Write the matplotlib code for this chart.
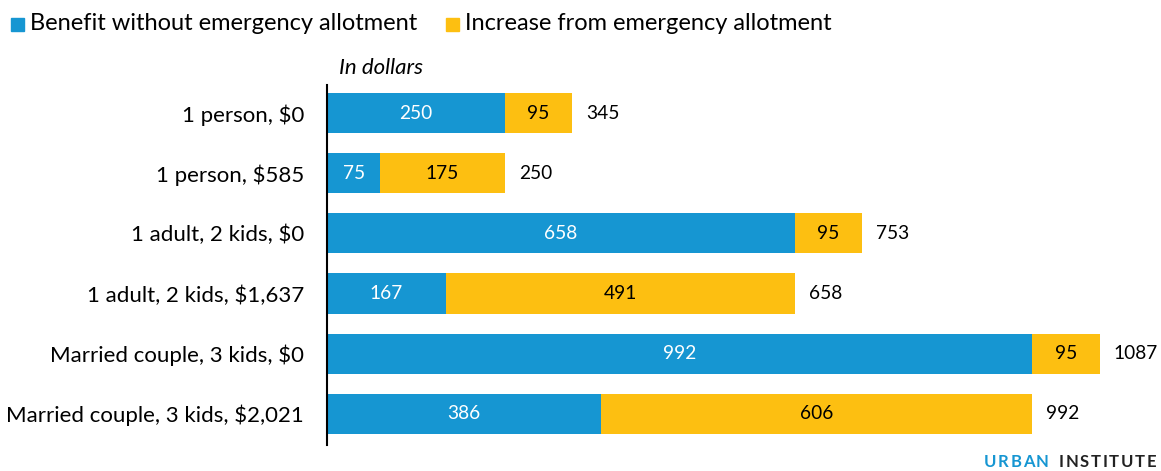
import matplotlib
matplotlib.use("Agg")
import matplotlib.pyplot as plt

plt.rcParams['font.family'] = ['Lato', 'DejaVu Sans']

categories = ["1 person, $0", "1 person, $585", "1 adult, 2 kids, $0",
              "1 adult, 2 kids, $1,637", "Married couple, 3 kids, $0",
              "Married couple, 3 kids, $2,021"]
base = [250, 75, 658, 167, 992, 386]
increase = [95, 175, 95, 491, 95, 606]
totals = [345, 250, 753, 658, 1087, 992]
series_names = ["Benefit without emergency allotment", "Increase from emergency allotment"]

BLUE = "#1696d2"
YELLOW = "#fdbf11"

W, H = 1161, 471
fig = plt.figure(figsize=(W/100, H/100), dpi=100)
ax = fig.add_axes([327/W, 1-445/H, (1150-327)/W, (445-85)/H])

y = list(range(len(categories)))
ax.barh(y, base, height=0.667, color=BLUE, edgecolor="none")
ax.barh(y, increase, left=base, height=0.667, color=YELLOW, edgecolor="none")

vfs = 13.8
for i in y:
    ax.text(base[i]/2, i, f"{base[i]}", ha="center", va="center", color="white", fontsize=vfs)
    ax.text(base[i] + increase[i]/2, i, f"{increase[i]}", ha="center", va="center", color="black", fontsize=vfs)
    ax.text(totals[i] + 20, i, f"{totals[i]}", ha="left", va="center", color="black", fontsize=vfs)

ax.set_xlim(0, (1150-327)/0.7107)
ax.set_ylim(len(categories) - 0.5 + 0.02, -0.467)
ax.set_yticks(y)
ax.set_yticklabels(categories, fontsize=16)
ax.tick_params(axis="y", length=0, pad=16.5)
ax.set_xticks([])
for s in ["top", "right", "bottom"]:
    ax.spines[s].set_visible(False)
ax.spines["left"].set_linewidth(1.5)
ax.spines["left"].set_color("black")

fig.text(339/W, 1-68/H, "In dollars", fontsize=16, style="italic", ha="left", va="center")

# legend
fig.patches.append(plt.Rectangle((11/W, 1-31/H), 13/W, 13/H, transform=fig.transFigure, color=BLUE))
fig.text(30/W, 1-24/H, series_names[0], fontsize=17, ha="left", va="center")
fig.patches.append(plt.Rectangle((446/W, 1-31/H), 13/W, 13/H, transform=fig.transFigure, color=YELLOW))
fig.text(465/W, 1-24/H, series_names[1], fontsize=17, ha="left", va="center")

# brand with letter spacing
renderer = fig.canvas.get_renderer()
def spaced(word, x0, color, track=1.6, fs=12):
    x = x0
    for ch in word:
        t = fig.text(x/W, 1-462/H, ch, fontsize=fs, weight="bold", color=color, ha="left", va="center")
        w = t.get_window_extent(renderer).width
        x += w + track
    return x
spaced("URBAN", 984, BLUE)
spaced("INSTITUTE", 1059, "#222222")

fig.savefig("out.png", dpi=100)
